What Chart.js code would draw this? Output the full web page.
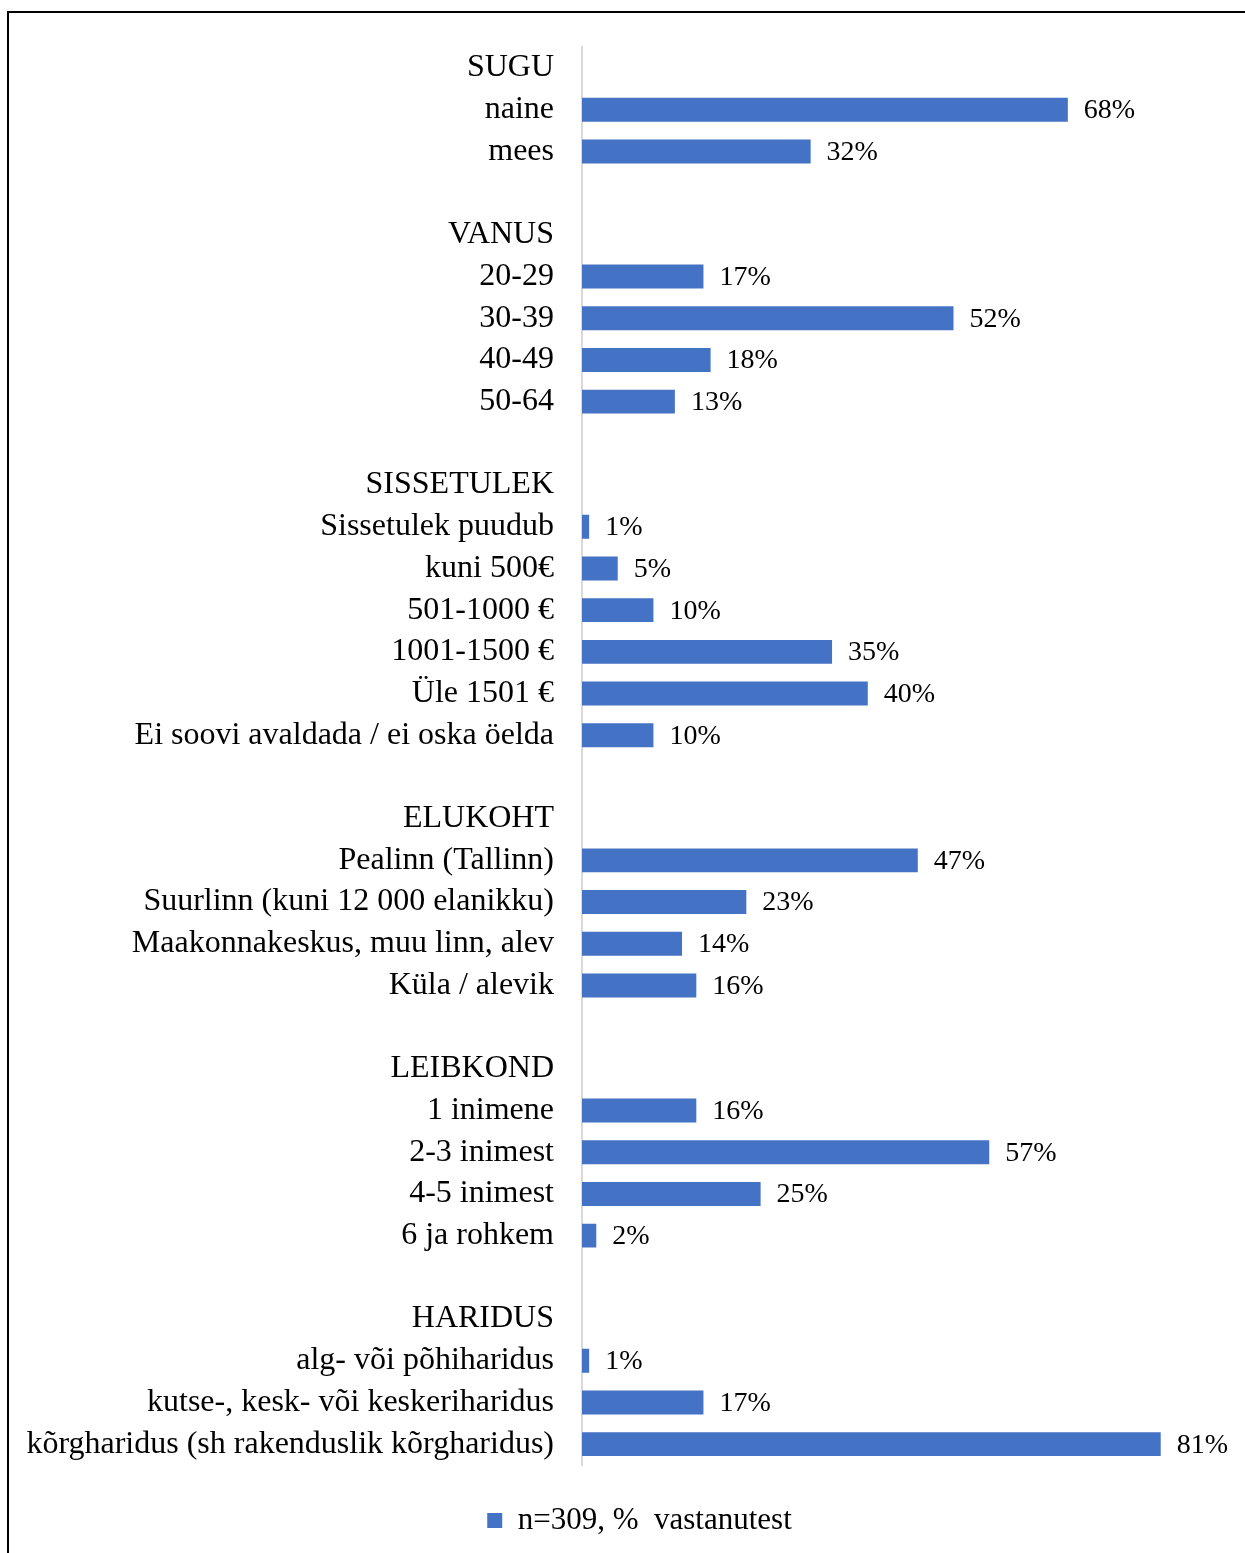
<!DOCTYPE html>
<html>
<head>
<meta charset="utf-8">
<script src="https://cdn.jsdelivr.net/npm/chart.js@4/dist/chart.umd.min.js"></script>
<style>
  html, body { margin: 0; padding: 0; background: #fff; }
  #wrap { position: relative; width: 1245px; height: 1553px; overflow: hidden; }
  #frame { position: absolute; left: 7px; top: 11px; width: 1300px; height: 1600px;
           border-left: 2px solid #000; border-top: 2px solid #000; pointer-events: none; }
  canvas { position: absolute; left: 0; top: 0; }
</style>
</head>
<body>
<div id="wrap">
  <canvas id="chart" width="1245" height="1553"></canvas>
  <div id="frame"></div>
</div>
<script>
// Respondent profile, share of respondents (%)
const groupTitles = ['SUGU', 'VANUS', 'SISSETULEK', 'ELUKOHT', 'LEIBKOND', 'HARIDUS'];

const sexLabels = ['naine', 'mees'];
const sexValues = [68, 32];

const ageLabels = ['20-29', '30-39', '40-49', '50-64'];
const ageValues = [17, 52, 18, 13];

const incomeLabels = ['Sissetulek puudub', 'kuni 500€', '501-1000 €', '1001-1500 €', 'Üle 1501 €', 'Ei soovi avaldada / ei oska öelda'];
const incomeValues = [1, 5, 10, 35, 40, 10];

const residenceLabels = ['Pealinn (Tallinn)', 'Suurlinn (kuni 12 000 elanikku)', 'Maakonnakeskus, muu linn, alev', 'Küla / alevik'];
const residenceValues = [47, 23, 14, 16];

const householdLabels = ['1 inimene', '2-3 inimest', '4-5 inimest', '6 ja rohkem'];
const householdValues = [16, 57, 25, 2];

const educationLabels = ['alg- või põhiharidus', 'kutse-, kesk- või keskeriharidus', 'kõrgharidus (sh rakenduslik kõrgharidus)'];
const educationValues = [1, 17, 81];

const seriesName = 'n=309, %  vastanutest';

// Assemble one category list: group title row, its items, then an empty spacer row
const groupLabels = [sexLabels, ageLabels, incomeLabels, residenceLabels, householdLabels, educationLabels];
const groupValues = [sexValues, ageValues, incomeValues, residenceValues, householdValues, educationValues];
const categories = [];
const values = [];
groupTitles.forEach((title, g) => {
  if (g > 0) { categories.push(''); values.push(null); }
  categories.push(title); values.push(null);
  groupLabels[g].forEach((lab, i) => { categories.push(lab); values.push(groupValues[g][i]); });
});

const FONT = '"Liberation Serif", "Times New Roman", serif';
const BLUE = '#4472C4';
const PAD_LEFT = 20;
const AXIS_X = 582;

// Percentage labels to the right of each bar
const valueLabels = {
  id: 'valueLabels',
  afterDatasetsDraw(chart) {
    const ctx = chart.ctx;
    const meta = chart.getDatasetMeta(0);
    ctx.save();
    ctx.font = '28px ' + FONT;
    ctx.fillStyle = '#000';
    ctx.textAlign = 'left';
    ctx.textBaseline = 'middle';
    meta.data.forEach((bar, i) => {
      const v = chart.data.datasets[0].data[i];
      if (v === null || v === undefined) return;
      ctx.fillText(v + '%', bar.x + 16, bar.y + 1);
    });
    ctx.restore();
  }
};

// Centre the legend under the plot rather than under the whole canvas
const legendShift = {
  id: 'legendShift',
  afterLayout(chart) {
    if (chart.legend) chart.legend.left += 34;
  }
};

new Chart(document.getElementById('chart'), {
  type: 'bar',
  data: {
    labels: categories,
    datasets: [{
      label: seriesName,
      data: values,
      backgroundColor: BLUE,
      borderWidth: 0,
      barPercentage: 1,
      categoryPercentage: 0.573
    }]
  },
  options: {
    indexAxis: 'y',
    responsive: false,
    animation: false,
    devicePixelRatio: 1,
    layout: { padding: { left: PAD_LEFT, right: 20, top: 40, bottom: 7 } },
    scales: {
      x: {
        display: false,
        min: 0,
        max: 90
      },
      y: {
        afterFit(scale) { scale.width = AXIS_X - PAD_LEFT; },
        grid: { display: false, drawTicks: false },
        border: { display: true, color: '#d9d9d9', width: 2 },
        ticks: {
          autoSkip: false,
          padding: 28,
          color: '#000',
          font: { family: FONT, size: 32 }
        }
      }
    },
    plugins: {
      legend: {
        position: 'bottom',
        labels: {
          boxWidth: 15,
          boxHeight: 15,
          padding: 40,
          color: '#000',
          font: { family: FONT, size: 31 }
        }
      },
      tooltip: { enabled: false }
    }
  },
  plugins: [valueLabels, legendShift]
});
</script>
</body>
</html>
